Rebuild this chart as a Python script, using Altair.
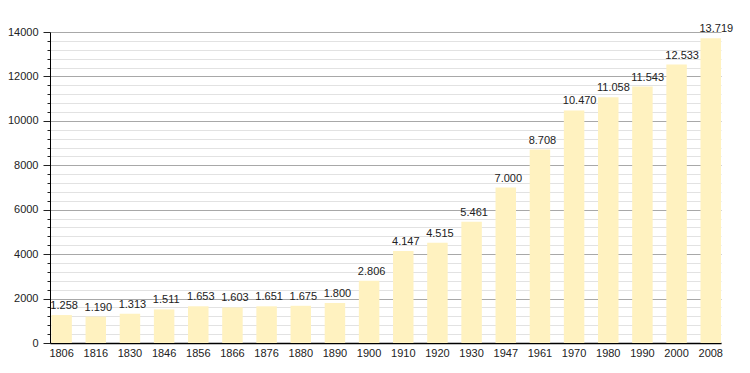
import altair as alt
import pandas as pd

years = ["1806", "1816", "1830", "1846", "1856", "1866", "1876", "1880", "1890", "1900",
         "1910", "1920", "1930", "1947", "1961", "1970", "1980", "1990", "2000", "2008"]
population = [1258, 1190, 1313, 1511, 1653, 1603, 1651, 1675, 1800, 2806,
              4147, 4515, 5461, 7000, 8708, 10470, 11058, 11543, 12533, 13719]
labels = [f"{v:,}".replace(",", ".") for v in population]
y_ticks = list(range(0, 14001, 400))

df = pd.DataFrame({"year": years, "pop": population, "label": labels})

font = "Liberation Sans"

x_axis = alt.Axis(title=None, labelAngle=0, ticks=False, domainColor="#000",
                  domainWidth=1.5, labelFontSize=11, labelColor="#222",
                  labelFont=font, labelPadding=4, grid=False)
x_scale = alt.Scale(paddingInner=0.4, paddingOuter=0.02, align=1)

y_axis = alt.Axis(
    title=None, values=y_ticks, format="d",
    labelExpr="datum.value % 2000 === 0 ? datum.label : ''",
    labelOverlap=False,
    gridColor={"condition": {"test": "datum.value % 2000 === 0", "value": "#a8a8a8"},
               "value": "#e2e2e2"},
    tickSize={"condition": {"test": "datum.value % 2000 === 0", "value": 7},
              "value": 3},
    tickColor="#222", domainColor="#000", labelFontSize=11, labelColor="#222",
    labelFont=font, labelPadding=5,
)
y_scale = alt.Scale(domain=[0, 14000], nice=False)

bars = alt.Chart(df).mark_bar(color="#fff2c0").encode(
    x=alt.X("year:N", sort=None, scale=x_scale, axis=x_axis),
    y=alt.Y("pop:Q", scale=y_scale, axis=y_axis),
)

text = alt.Chart(df).mark_text(
    align="left", baseline="bottom", dy=-4, dx=-1, fontSize=11, color="#222", font=font
).encode(
    x=alt.X("year:N", sort=None, bandPosition=0, scale=x_scale, axis=x_axis),
    y=alt.Y("pop:Q", scale=y_scale, axis=y_axis),
    text="label:N",
)

chart = (bars + text).properties(
    width=671, height=311,
    autosize=alt.AutoSizeParams(type="none"),
    padding={"left": 42, "top": 24, "right": 21, "bottom": 22},
).configure_view(stroke=None)

chart.save("out.html", embed_options={"renderer": "svg", "actions": False})
